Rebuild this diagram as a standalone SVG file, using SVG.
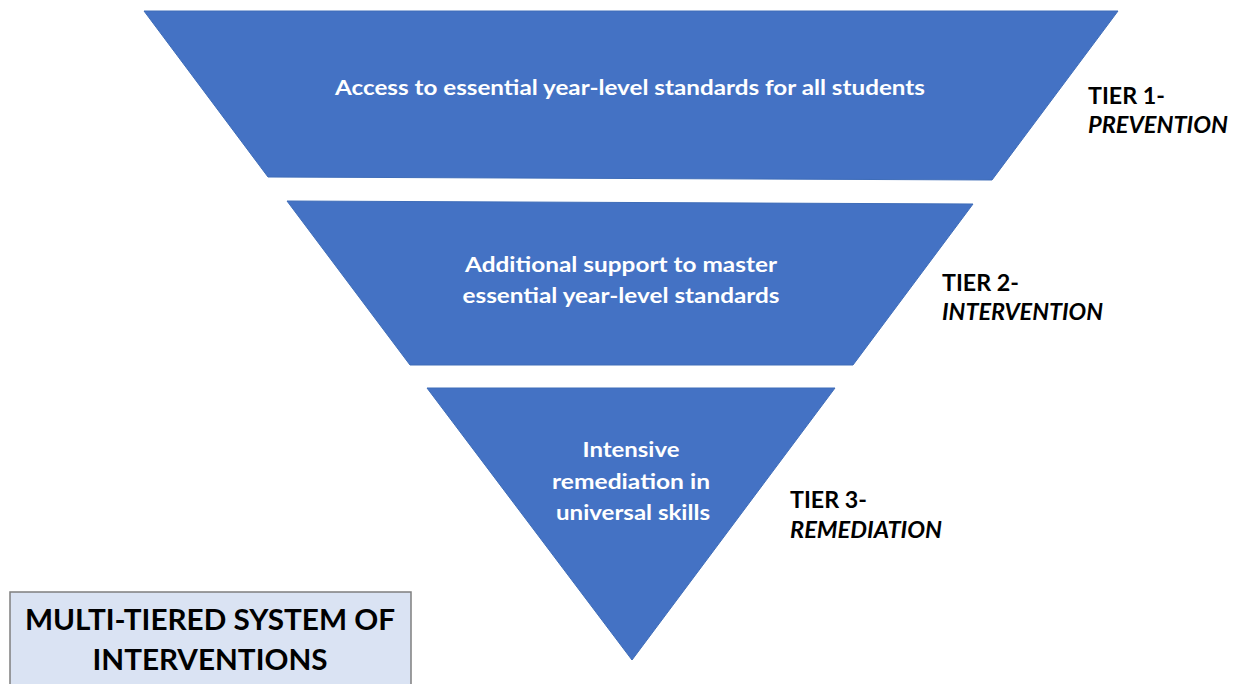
<svg xmlns="http://www.w3.org/2000/svg" width="1244" height="684" viewBox="0 0 1244 684">
<style>
.tier{fill:#4472C4;stroke:#3F6DB8;stroke-width:1}
.in{font-family:Lato,"Open Sans",sans-serif;font-weight:bold;font-size:21px;fill:#fff;text-anchor:middle}
.lbl{font-family:Lato,"Open Sans",sans-serif;font-weight:bold;font-size:22px;fill:#000}
.it{font-style:italic}
.title{font-family:Lato,"Open Sans",sans-serif;font-weight:bold;font-size:29px;fill:#000;text-anchor:middle}
</style>
<rect width="1244" height="684" fill="#fff"/>
<g id="tier1">
<polygon class="tier" points="144,11 1118,11 992,180 268,177"/>
<text class="in" x="630" y="95" textLength="590" lengthAdjust="spacingAndGlyphs">Access to essential year-level standards for all students</text>
<text class="lbl" x="1088" y="104" textLength="77" lengthAdjust="spacingAndGlyphs">TIER 1-</text>
<text class="lbl it" x="1088" y="133" textLength="140" lengthAdjust="spacingAndGlyphs">PREVENTION</text>
</g>
<g id="tier2">
<polygon class="tier" points="287,201 973,204 853,365 410,365"/>
<text class="in" x="621" y="272" textLength="312" lengthAdjust="spacingAndGlyphs">Additional support to master</text>
<text class="in" x="621" y="303" textLength="317" lengthAdjust="spacingAndGlyphs">essential year-level standards</text>
<text class="lbl" x="942" y="291" textLength="77" lengthAdjust="spacingAndGlyphs">TIER 2-</text>
<text class="lbl it" x="942" y="320" textLength="161" lengthAdjust="spacingAndGlyphs">INTERVENTION</text>
</g>
<g id="tier3">
<polygon class="tier" points="427,388 835,388 632,660"/>
<text class="in" x="631" y="457" textLength="97" lengthAdjust="spacingAndGlyphs">Intensive</text>
<text class="in" x="631" y="489" textLength="158" lengthAdjust="spacingAndGlyphs">remediation in</text>
<text class="in" x="633" y="520" textLength="154" lengthAdjust="spacingAndGlyphs">universal skills</text>
<text class="lbl" x="790" y="508" textLength="77" lengthAdjust="spacingAndGlyphs">TIER 3-</text>
<text class="lbl it" x="790" y="538" textLength="152" lengthAdjust="spacingAndGlyphs">REMEDIATION</text>
</g>
<g id="title">
<rect x="10" y="592" width="401" height="100" fill="#DAE3F3" stroke="#7F7F7F" stroke-width="1.5"/>
<text class="title" x="210" y="630" textLength="370" lengthAdjust="spacingAndGlyphs">MULTI-TIERED SYSTEM OF</text>
<text class="title" x="210" y="670" textLength="235" lengthAdjust="spacingAndGlyphs">INTERVENTIONS</text>
</g>
<g id="connectors"/>
</svg>
